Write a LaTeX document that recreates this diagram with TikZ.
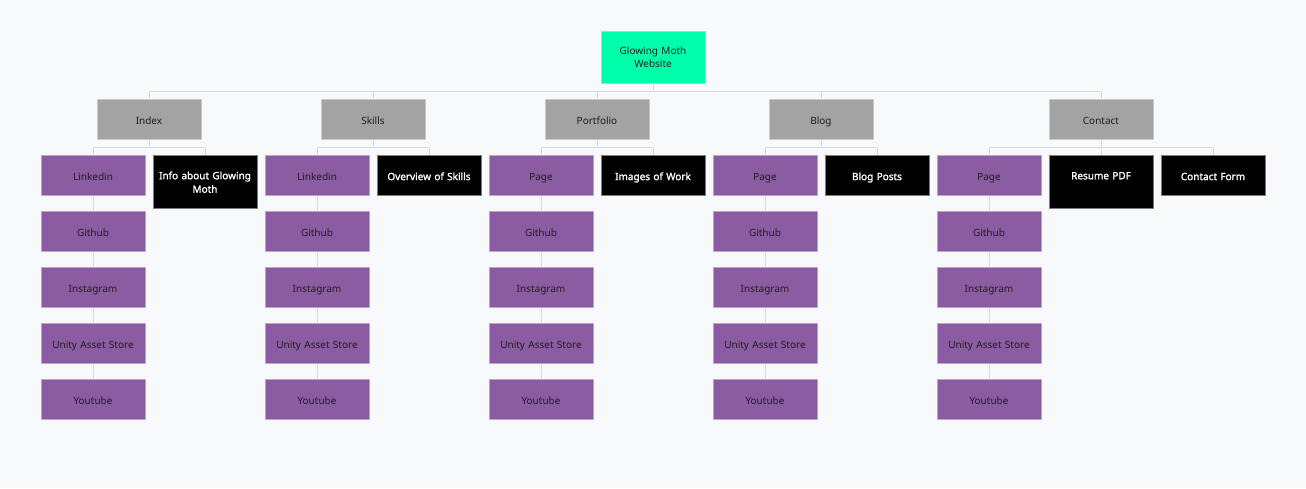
\documentclass[tikz,border=0pt]{standalone}
\usepackage{fontspec}
\setmainfont{Noto Sans}
\newfontfamily\boxbold{Noto Sans}[FakeBold=1.6]
\definecolor{bgc}{HTML}{F8F9FB}
\definecolor{rootc}{HTML}{00FFAA}
\definecolor{rootd}{HTML}{7FEFCB}
\definecolor{secc}{HTML}{A3A3A3}
\definecolor{secd}{HTML}{CACACA}
\definecolor{linkc}{HTML}{8B5CA2}
\definecolor{linkd}{HTML}{B9A3C9}
\definecolor{infod}{HTML}{7D7D7D}
\definecolor{wirec}{HTML}{DDDDDD}
\definecolor{txt}{HTML}{1E1E1E}
\begin{document}
\begin{tikzpicture}[x=1pt, y=-1pt, font=\fontsize{10}{13.5}\selectfont, line join=round,
	box/.style={draw, line width=1pt, minimum width=104pt, minimum height=40pt, inner sep=2pt, text width=100pt, align=center, text=txt, text height=10.2pt, text depth=0pt},
	twoline/.style={text height={}, text depth={}},
	rootbox/.style={box, twoline, fill=rootc, draw=rootd, minimum height=52pt},
	secbox/.style={box, fill=secc, draw=secd},
	linkbox/.style={box, fill=linkc, draw=linkd},
	infobox/.style={box, fill=black, draw=infod, text=white, font=\boxbold\fontsize{10}{13.5}\selectfont},
	wire/.style={draw=wirec, line width=1pt}]
	\fill[bgc] (0,0) rectangle (1306,488);
	\useasboundingbox (0,0) rectangle (1306,488);
	\node[rootbox] (web) at (653,57) {Glowing Moth\\Website};
	\foreach \n/\t/\x in {idx/Index/149, skl/Skills/373, prt/Portfolio/597, blg/Blog/821, con/Contact/1101}{
		\node[secbox] (\n) at (\x,119) {\t};
		\draw[wire] (web.south) -- ++(0,8) -| (\n.north);}
	% purple link columns
	\foreach \p/\x/\f in {idx/93/Linkedin, skl/317/Linkedin, prt/541/Page, blg/765/Page, con/989/Page}{
		\node[linkbox] (\p1) at (\x,175) {\f};
		\draw[wire] (\p.south) -- ++(0,8) -| (\p1.north);
		\foreach \t [count=\i from 2] in {Github, Instagram, Unity Asset Store, Youtube}{
			\pgfmathtruncatemacro\j{\i-1}
			\node[linkbox] (\p\i) at (\x,{119+56*\i}) {\t};
			\draw[wire] (\p\j.south) -- (\p\i.north);}
	}
	% black content boxes
	\node[infobox, twoline, minimum height=53pt] (idxinfo) at (205,181.5) {\rule{0pt}{9pt}Info about Glowing\\Moth};
	\node[infobox] (sklinfo) at (429,175) {Overview of Skills};
	\node[infobox] (prtinfo) at (653,175) {Images of Work};
	\node[infobox] (blginfo) at (877,175) {Blog Posts};
	\node[infobox, twoline, minimum height=53pt] (conpdf) at (1101,181.5) {\rule{0pt}{9pt}Resume PDF\\\mbox{}};
	\node[infobox] (conform) at (1213,175) {Contact Form};
	\foreach \p/\c in {idx/idxinfo, skl/sklinfo, prt/prtinfo, blg/blginfo, con/conpdf, con/conform}
		\draw[wire] (\p.south) -- ++(0,8) -| (\c.north);
\end{tikzpicture}
\end{document}
